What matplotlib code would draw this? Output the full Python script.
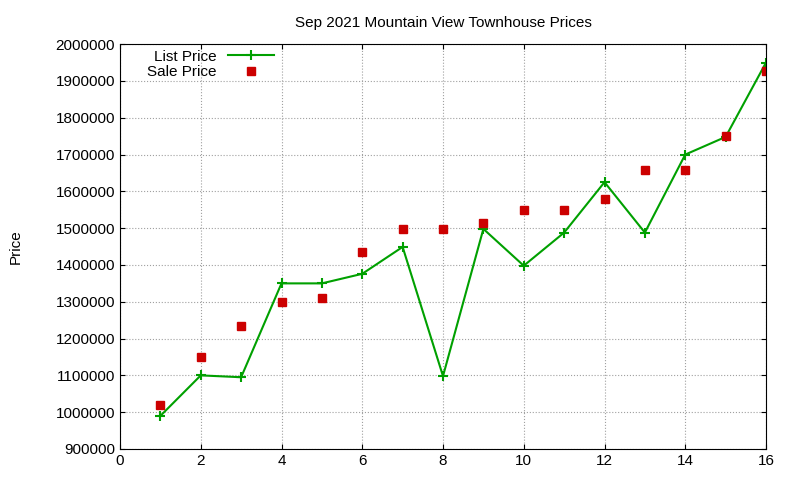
import matplotlib
matplotlib.use("Agg")
import matplotlib.pyplot as plt

x = list(range(1, 17))
list_price = [990000, 1100000, 1095000, 1350000, 1350000, 1376000, 1449000, 1098000,
              1498000, 1398000, 1488000, 1625000, 1488000, 1700000, 1748000, 1950000]
sale_price = [1020000, 1150000, 1235000, 1300000, 1310000, 1435000, 1499000, 1499000,
              1515000, 1550000, 1550000, 1580000, 1658000, 1658000, 1750000, 1927000]
title = "Sep 2021 Mountain View Townhouse Prices"

fig = plt.figure(figsize=(8, 4.8), dpi=100)
ax = fig.add_axes([0.15, 0.0646, 0.8075, 0.8434])
ax.plot(x, list_price, color="#00a000", marker="+", markersize=7, mew=1.5, lw=1.5, label="List Price")
ax.plot(x, sale_price, color="#cc0000", marker="s", markersize=5.5, ls="none", label="Sale Price")
ax.set_xlim(0, 16)
ax.set_ylim(900000, 2000000)
ax.set_xticks(range(0, 17, 2))
ax.set_yticks(range(900000, 2000001, 100000))
ax.ticklabel_format(style="plain", axis="y")
ax.grid(True, color="#a0a0a0", ls=":", lw=0.8)
ax.tick_params(direction="in", top=True, right=True, labelsize=11)
for lab in ax.get_xticklabels() + ax.get_yticklabels():
    lab.set_fontfamily("Liberation Sans")
ax.set_title(title, fontsize=11, family="Liberation Sans", pad=12)
ax.set_ylabel("Price", fontsize=11, family="Liberation Sans", labelpad=24)
ax.legend(loc="upper left", markerfirst=False, frameon=False, prop={"family": "Liberation Sans", "size": 11},
          bbox_to_anchor=(0.02, 1.02), handlelength=3, labelspacing=0.1, borderaxespad=0.5)
fig.savefig("out.png")
